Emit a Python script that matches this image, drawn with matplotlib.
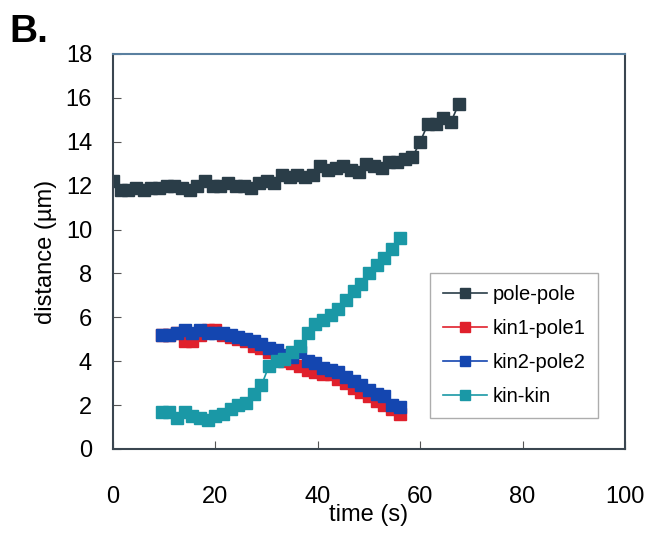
import matplotlib
matplotlib.use("Agg")
import matplotlib.pyplot as plt
import numpy as np

plt.rcParams['font.family'] = ['Liberation Sans', 'DejaVu Sans']

# Data
t_pole = [0, 1.5, 3, 4.5, 6, 7.5, 9, 10.5, 12, 13.5, 15, 16.5, 18, 19.5, 21, 22.5,
          24, 25.5, 27, 28.5, 30, 31.5, 33, 34.5, 36, 37.5, 39, 40.5, 42, 43.5,
          45, 46.5, 48, 49.5, 51, 52.5, 54, 55.5, 57, 58.5, 60, 61.5, 63, 64.5,
          66, 67.5]
pole_pole = [12.2, 11.8, 11.8, 11.9, 11.8, 11.9, 11.9, 12.0, 12.0, 11.9, 11.8, 12.0,
             12.2, 12.0, 12.0, 12.1, 12.0, 12.0, 11.9, 12.1, 12.2, 12.1, 12.5, 12.4,
             12.5, 12.4, 12.5, 12.9, 12.7, 12.8, 12.9, 12.7, 12.6, 13.0, 12.9, 12.8,
             13.1, 13.1, 13.2, 13.3, 14.0, 14.8, 14.8, 15.1, 14.9, 15.7]

t_kin = [9.5, 11, 12.5, 14, 15.5, 17, 18.5, 20, 21.5, 23, 24.5, 26, 27.5, 29, 30.5,
         32, 33.5, 35, 36.5, 38, 39.5, 41, 42.5, 44, 45.5, 47, 48.5, 50, 51.5, 53,
         54.5, 56]
kin1_pole1 = [5.2, 5.2, 5.3, 4.9, 4.9, 5.2, 5.4, 5.4, 5.2, 5.1, 5.0, 4.9, 4.7, 4.6,
              4.4, 4.2, 4.0, 3.9, 3.8, 3.6, 3.5, 3.4, 3.4, 3.2, 3.0, 2.8, 2.6, 2.4,
              2.2, 2.0, 1.8, 1.6]
kin2_pole2 = [5.2, 5.2, 5.3, 5.4, 5.3, 5.4, 5.3, 5.3, 5.3, 5.2, 5.1, 5.0, 4.9, 4.8,
              4.6, 4.5, 4.3, 4.2, 4.4, 4.0, 3.9, 3.7, 3.6, 3.5, 3.3, 3.1, 2.9, 2.7,
              2.5, 2.4, 2.0, 1.9]
kin_kin = [1.7, 1.7, 1.4, 1.7, 1.5, 1.4, 1.3, 1.5, 1.6, 1.8, 2.0, 2.1, 2.5, 2.9, 3.8,
           4.0, 4.1, 4.4, 4.7, 5.3, 5.7, 5.9, 6.1, 6.4, 6.8, 7.2, 7.5, 8.0, 8.4, 8.7,
           9.1, 9.6]

x_ticks = [0, 20, 40, 60, 80, 100]
y_ticks = [0, 2, 4, 6, 8, 10, 12, 14, 16, 18]

fig = plt.figure(figsize=(6.49, 5.33), dpi=100)
ax = fig.add_axes([0.174, 0.1576, 0.789, 0.7411])

series = [
    (t_pole, pole_pole, '#2a3d48', 'pole-pole'),
    (t_kin, kin1_pole1, '#e0202c', 'kin1-pole1'),
    (t_kin, kin2_pole2, '#1446b0', 'kin2-pole2'),
    (t_kin, kin_kin, '#1a98a6', 'kin-kin'),
]
for x, y, c, lab in series:
    ax.plot(x, y, color=c, marker='s', markersize=8.5, linewidth=1.2, label=lab)

ax.set_xlim(0, 100)
ax.set_ylim(0, 18)
ax.set_xticks(x_ticks)
ax.set_yticks(y_ticks)
ax.tick_params(axis='x', direction='in', length=6, pad=27, labelsize=17, color='#555555')
ax.tick_params(axis='y', direction='in', length=6, pad=15, labelsize=17, color='#555555')
for s in ['left', 'bottom', 'right']:
    ax.spines[s].set_color('#3a4650')
    ax.spines[s].set_linewidth(1.5)
ax.spines['top'].set_color('#5a80a0')
ax.spines['top'].set_linewidth(1.5)

ax.set_xlabel('time (s)', fontsize=17, labelpad=-3)
ax.set_ylabel('distance (µm)', fontsize=17, labelpad=6)

leg = ax.legend(loc='lower right', bbox_to_anchor=(0.947, 0.078), fontsize=14.5,
                frameon=True, fancybox=False, edgecolor='#999999',
                handlelength=2.2, handletextpad=0.3, labelspacing=0.75,
                borderpad=0.6, borderaxespad=0.0, markerscale=0.9)
leg.get_frame().set_linewidth(1.0)

fig.text(0.015, 0.922, 'B.', fontsize=28, fontweight='bold')

fig.savefig('out.png', dpi=100)
